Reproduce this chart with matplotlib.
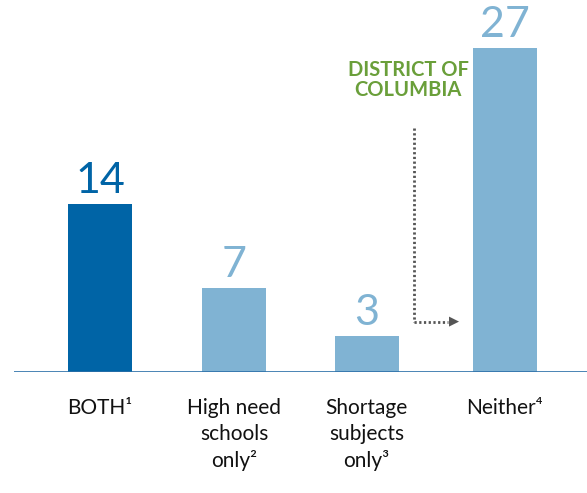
import numpy as np
import matplotlib
matplotlib.use("Agg")
import matplotlib.pyplot as plt

plt.rcParams['font.family'] = ['Lato', 'DejaVu Sans']

categories = ['BOTH\u00b9', 'High need\nschools\nonly\u00b2',
              'Shortage\nsubjects\nonly\u00b3', 'Neither\u2074']
values = [14, 7, 3, 27]
colors = ['#0064a6', '#80b3d3', '#80b3d3', '#80b3d3']

fig = plt.figure(figsize=(5.87, 4.93), dpi=100)
# axes: baseline at 372px from top, left edge at 14px
ax = fig.add_axes([14 / 587, (493 - 372) / 493, 573 / 587, 372 / 493])

x = np.array([0, 1, 1.99, 3.02])
ax.bar(x, values, width=64 / 134, color=colors)
ax.set_xlim(-86 / 134, 487 / 134)
ax.set_ylim(0, 31)

for xi, v, c in zip(x, values, colors):
    ax.text(xi, v + 0.3, str(v), ha='center', va='bottom', color=c,
            fontsize=31)

for xi, lab in zip(x, categories):
    ax.text(xi, -2.2, lab, ha='center', va='top', fontsize=15,
            color='#111111', linespacing=1.35)

ax.axhline(0, color='#2b6fa8', lw=1.2)
for s in ax.spines.values():
    s.set_visible(False)
ax.set_xticks([])
ax.set_yticks([])

# annotation
ax.text(2.3, 24.3, 'DISTRICT OF\nCOLUMBIA', ha='center', va='center',
        color='#6a9f3a', fontsize=14.5, fontweight='bold', linespacing=1.0)
ax.plot([2.34, 2.34], [20.3, 4.2], color='#555555', lw=2, ls=(0, (0.8, 0.9)))
ax.plot([2.34, 2.6], [4.2, 4.2], color='#555555', lw=2, ls=(0, (0.8, 0.9)))
ax.annotate('', xy=(2.7, 4.2), xytext=(2.6, 4.2),
            arrowprops=dict(arrowstyle='-|>', color='#555555', lw=0,
                            mutation_scale=18))

fig.savefig('out.png', dpi=100)
